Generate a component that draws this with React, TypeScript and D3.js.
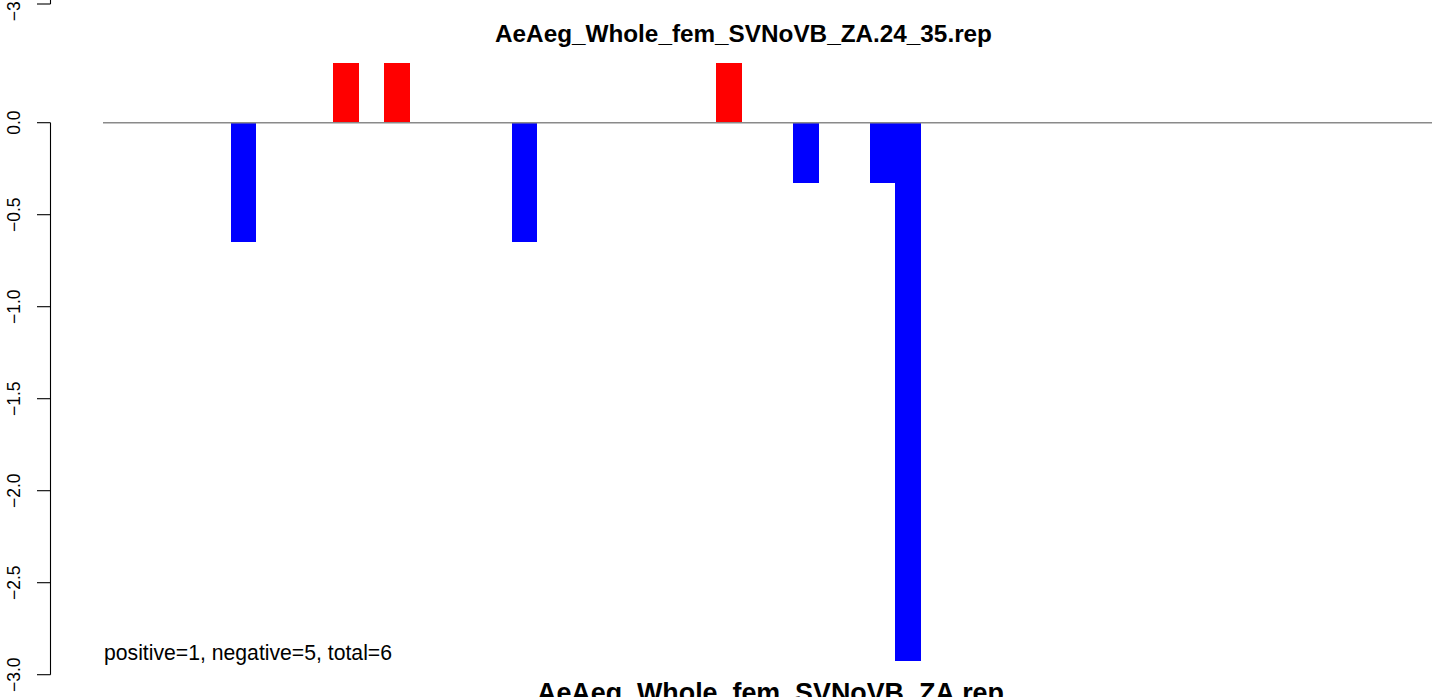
import React from "react";
import * as d3 from "d3";

const WIDTH = 1444;
const HEIGHT = 697;

const title = "AeAeg_Whole_fem_SVNoVB_ZA.24_35.rep";
const xLabel = "AeAeg_Whole_fem_SVNoVB_ZA.rep";
const summary = "positive=1, negative=5, total=6";

const slotCount = 52;
const barSlots = [5, 9, 11, 16, 24, 27, 30, 31];
const barValues = [-0.65, 0.325, 0.325, -0.65, 0.325, -0.325, -0.325, -2.925];
const yTicks = [0, -0.5, -1, -1.5, -2, -2.5, -3];
const upperPanelTicks = [-3];

const FONT = "'Liberation Sans', Arial, Helvetica, sans-serif";

export default function App() {
  const x = d3.scaleLinear().domain([0, slotCount]).range([103, 1432]);
  const y = d3.scaleLinear().domain([-3, 0]).range([674.7, 122.7]);
  const panelOffset = 670.7;
  const yUpper = (v: number) => y(v) - panelOffset;
  const axisX = 50.5;
  const fmt = (v: number) => d3.format(".1f")(v).replace("-", "−");

  return (
    <svg
      width={WIDTH}
      height={HEIGHT}
      style={{ position: "absolute", left: 0, top: 0, display: "block", background: "#fff" }}
      fontFamily={FONT}
    >
      {/* title */}
      <text x={743.5} y={42} textAnchor="middle" fontWeight="bold" fontSize={24.3}>
        {title}
      </text>

      {/* bars */}
      {barSlots.map((s, i) => {
        const v = barValues[i];
        const y0 = y(Math.max(0, v));
        const y1 = y(Math.min(0, v));
        return (
          <rect
            key={i}
            x={x(s)}
            y={y0}
            width={x(s + 1) - x(s)}
            height={y1 - y0}
            fill={v > 0 ? "#ff0000" : "#0000ff"}
            shapeRendering="crispEdges"
          />
        );
      })}

      {/* zero line */}
      <line x1={x(0)} x2={x(slotCount)} y1={y(0)} y2={y(0)} stroke="#8a8a8a" strokeWidth={1.6} />

      {/* y axis */}
      <line x1={axisX} x2={axisX} y1={y(0)} y2={y(-3)} stroke="#000" strokeWidth={1.1} />
      {yTicks.map((t) => (
        <g key={t}>
          <line x1={37} x2={axisX} y1={y(t)} y2={y(t)} stroke="#000" strokeWidth={1.1} />
          <text
            transform={`translate(20,${y(t)}) rotate(-90)`}
            textAnchor="middle"
            fontSize={17.5}
          >
            {fmt(t)}
          </text>
        </g>
      ))}

      {/* bottom of the axis of the panel above */}
      <line x1={axisX} x2={axisX} y1={0} y2={yUpper(-3)} stroke="#000" strokeWidth={1.1} />
      {upperPanelTicks.map((t) => (
        <g key={"u" + t}>
          <line x1={37} x2={axisX} y1={yUpper(t)} y2={yUpper(t)} stroke="#000" strokeWidth={1.1} />
          <text
            transform={`translate(20,${yUpper(t)}) rotate(-90)`}
            textAnchor="middle"
            fontSize={17.5}
          >
            {fmt(t)}
          </text>
        </g>
      ))}

      {/* summary */}
      <text x={104} y={660} fontSize={21.2}>
        {summary}
      </text>

      {/* x label */}
      <text x={770.5} y={702} textAnchor="middle" fontWeight="bold" fontSize={26.85}>
        {xLabel}
      </text>
    </svg>
  );
}
